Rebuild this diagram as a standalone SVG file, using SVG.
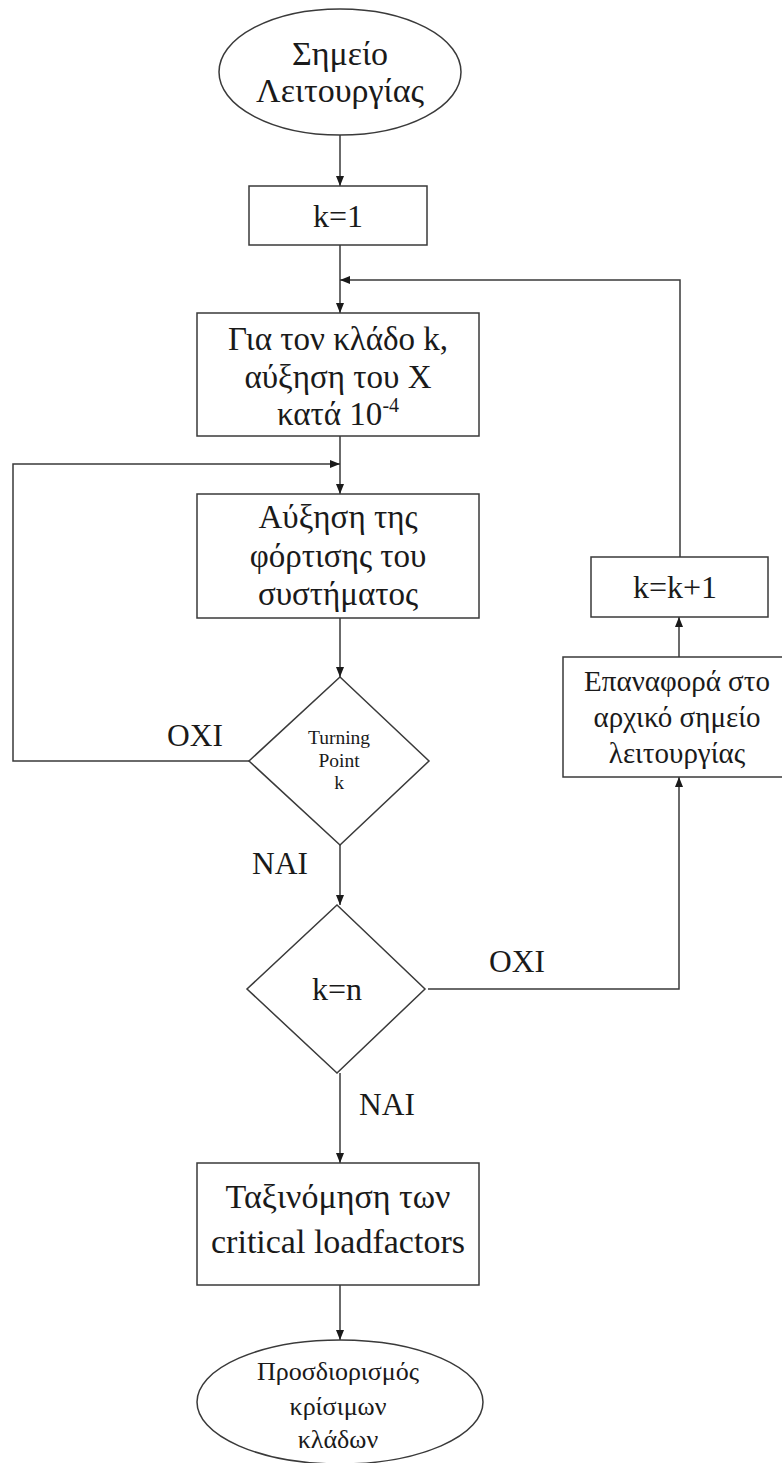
<svg xmlns="http://www.w3.org/2000/svg" width="782" height="1463" viewBox="0 0 782 1463">
<style>
.s{fill:#fff;stroke:#3a3a3a;stroke-width:1.5}
.c{fill:none;stroke:#3a3a3a;stroke-width:1.5}
text{font-family:"Liberation Serif","Times New Roman",serif;fill:#1a1a1a;text-anchor:middle}
.m{font-size:33px}
.b{font-size:34px}
.k{font-size:32px}
.r{font-size:29px}
.t{font-size:19.5px}
.l{font-size:31.5px}
.e{font-size:26px}
</style>
<defs>
<marker id="a" markerWidth="10" markerHeight="8" refX="10" refY="4" orient="auto" markerUnits="userSpaceOnUse">
<path d="M0,0 L10,4 L0,8 Z" fill="#1a1a1a"/>
</marker>
</defs>
<rect width="782" height="1463" fill="#fff"/>
<g id="connectors">
<path class="c" d="M340,135 V186" marker-end="url(#a)"/>
<path class="c" d="M340,245 V313" marker-end="url(#a)"/>
<path class="c" d="M680,557 V280 H340" marker-end="url(#a)"/>
<path class="c" d="M340,436 V494" marker-end="url(#a)"/>
<path class="c" d="M249,761 H13 V464 H340" marker-end="url(#a)"/>
<path class="c" d="M340,618 V677" marker-end="url(#a)"/>
<path class="c" d="M340,845 V905" marker-end="url(#a)"/>
<path class="c" d="M428,989 H679 V777" marker-end="url(#a)"/>
<path class="c" d="M679,657 V617" marker-end="url(#a)"/>
<path class="c" d="M340,1073 V1163" marker-end="url(#a)"/>
<path class="c" d="M340,1285 V1340" marker-end="url(#a)"/>
</g>
<g id="start">
<ellipse class="s" cx="340" cy="72" rx="121" ry="63"/>
<text class="b" x="340" y="65">Σημείο</text>
<text class="b" x="340" y="102">Λειτουργίας</text>
</g>
<g id="init">
<rect class="s" x="249" y="186" width="178" height="59"/>
<text class="k" x="338" y="227">k=1</text>
</g>
<g id="branch">
<rect class="s" x="197" y="313" width="282" height="123"/>
<text class="m" x="338" y="350">Για τον κλάδο k,</text>
<text class="m" x="338" y="388">αύξηση του X</text>
<text class="m" x="338" y="425">κατά 10<tspan font-size="20" dy="-13">-4</tspan></text>
</g>
<g id="load">
<rect class="s" x="197" y="494" width="282" height="124"/>
<text class="m" x="338" y="528">Αύξηση της</text>
<text class="m" x="338" y="567">φόρτισης του</text>
<text class="m" x="338" y="605">συστήματος</text>
</g>
<g id="turning">
<polygon class="s" points="340,677 429,761 340,845 249,761"/>
<text class="t" x="339" y="744">Turning</text>
<text class="t" x="339" y="767">Point</text>
<text class="t" x="339" y="789">k</text>
</g>
<g id="label-oxi1"><text class="l" x="195" y="746">ΟΧΙ</text></g>
<g id="label-nai1"><text class="l" x="280" y="874">ΝΑΙ</text></g>
<g id="check">
<polygon class="s" points="337,905 425,989 337,1073 247,989"/>
<text class="k" x="337" y="1000">k=n</text>
</g>
<g id="label-oxi2"><text class="l" x="517" y="972">ΟΧΙ</text></g>
<g id="label-nai2"><text class="l" x="387" y="1115">ΝΑΙ</text></g>
<g id="reset">
<rect class="s" x="563" y="657" width="230" height="120"/>
<text class="r" x="677" y="691">Επαναφορά στο</text>
<text class="r" x="677" y="727">αρχικό σημείο</text>
<text class="r" x="677" y="763">λειτουργίας</text>
</g>
<g id="increment">
<rect class="s" x="591" y="557" width="177" height="60"/>
<text class="k" x="675" y="598">k=k+1</text>
</g>
<g id="sort">
<rect class="s" x="197" y="1163" width="282" height="122"/>
<text class="b" x="338" y="1208">Ταξινόμηση των</text>
<text class="b" x="338" y="1253">critical loadfactors</text>
</g>
<g id="end">
<ellipse class="s" cx="340" cy="1402" rx="143" ry="62"/>
<text class="e" x="338" y="1380">Προσδιορισμός</text>
<text class="e" x="338" y="1415">κρίσιμων</text>
<text class="e" x="338" y="1448">κλάδων</text>
</g>
</svg>
